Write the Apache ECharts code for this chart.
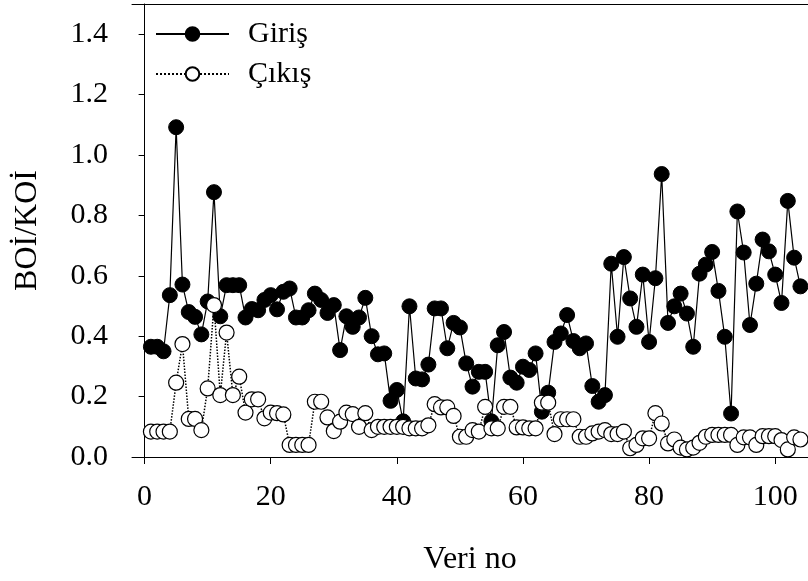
<!DOCTYPE html>
<html>
<head>
<meta charset="utf-8">
<script src="https://cdn.jsdelivr.net/npm/echarts@6/dist/echarts.min.js"></script>
<style>
html,body{margin:0;padding:0;background:#fff;}
#chart{width:808px;height:581px;}
</style>
</head>
<body>
<div id="chart"></div>
<script>
const girisValues = [0.365,0.365,0.35,0.536,1.092,0.571,0.48,0.464,0.406,0.515,
0.877,0.466,0.569,0.569,0.569,0.462,0.49,0.486,0.52,0.536,
0.489,0.547,0.558,0.462,0.462,0.486,0.541,0.52,0.477,0.503,
0.354,0.466,0.431,0.462,0.527,0.40,0.34,0.343,0.186,0.222,
0.118,0.499,0.26,0.257,0.306,0.492,0.492,0.36,0.444,0.429,
0.31,0.233,0.282,0.282,0.118,0.37,0.414,0.263,0.246,0.299,
0.288,0.343,0.15,0.213,0.381,0.409,0.47,0.384,0.36,0.376,
0.235,0.183,0.205,0.64,0.398,0.662,0.525,0.431,0.604,0.381,
0.592,0.937,0.444,0.499,0.541,0.475,0.365,0.607,0.637,0.679,
0.55,0.398,0.144,0.813,0.677,0.437,0.574,0.72,0.681,0.604,
0.51,0.848,0.66,0.565];
const cikisValues = [0.084,0.084,0.084,0.084,0.246,0.374,0.126,0.126,0.089,0.227,
0.503,0.205,0.412,0.205,0.266,0.147,0.191,0.191,0.128,0.147,
0.145,0.141,0.04,0.04,0.04,0.04,0.183,0.183,0.131,0.086,
0.117,0.147,0.142,0.10,0.145,0.089,0.10,0.10,0.10,0.10,
0.10,0.095,0.095,0.095,0.105,0.175,0.164,0.164,0.136,0.067,
0.067,0.089,0.084,0.166,0.095,0.095,0.166,0.166,0.098,0.098,
0.095,0.095,0.18,0.18,0.076,0.125,0.125,0.125,0.067,0.067,
0.078,0.084,0.089,0.076,0.076,0.084,0.029,0.04,0.062,0.062,
0.145,0.111,0.045,0.058,0.031,0.025,0.031,0.047,0.067,0.073,
0.073,0.073,0.073,0.04,0.065,0.065,0.04,0.069,0.069,0.069,
0.056,0.025,0.065,0.058];
const xTicks = [0,20,40,60,80,100];
const yTicks = [0,0.2,0.4,0.6,0.8,1.0,1.2,1.4];
const seriesNames = ['Giriş','Çıkış'];

const toPairs = arr => arr.map((v,i)=>[i+1,v]);
const FONT = '"Liberation Serif","Times New Roman",serif';

const chart = echarts.init(document.getElementById('chart'), null, {renderer:'canvas'});
chart.setOption({
  animation:false,
  backgroundColor:'#fff',
  grid:{left:132, right:0, top:4, bottom:124, containLabel:false},
  legend:{
    orient:'vertical', left:150, top:14, itemGap:10,
    itemWidth:73, itemHeight:17,
    textStyle:{fontFamily:FONT, fontSize:30, color:'#000', padding:[0,0,0,14]},
    data:seriesNames
  },
  xAxis:[{
    type:'value', min:-2, max:105.2,
    name:'Veri no', nameLocation:'middle', nameGap:87,
    nameTextStyle:{fontFamily:FONT, fontSize:32, color:'#000'},
    axisLine:{show:true, lineStyle:{color:'#000', width:1}},
    axisTick:{show:true, length:7, customValues:xTicks, lineStyle:{color:'#000'}},
    axisLabel:{customValues:xTicks, margin:25, fontFamily:FONT, fontSize:30, color:'#000'},
    splitLine:{show:false}
  },{
    type:'value', position:'top', min:-2, max:105.2,
    axisLine:{show:true, lineStyle:{color:'#000', width:1}},
    axisTick:{show:false}, axisLabel:{show:false}, splitLine:{show:false}
  }],
  yAxis:{
    type:'value', min:0, max:1.5,
    name:'BOİ/KOİ', nameLocation:'middle', nameGap:88, nameRotate:90,
    nameTextStyle:{fontFamily:FONT, fontSize:32, color:'#000'},
    axisLine:{show:true, lineStyle:{color:'#000', width:1}},
    axisTick:{show:true, length:6, customValues:yTicks, lineStyle:{color:'#000'}},
    axisLabel:{customValues:yTicks, margin:24, fontFamily:FONT, fontSize:30, color:'#000',
      formatter:v=>Number(v).toFixed(1)},
    splitLine:{show:false}
  },
  series:[{
    name:seriesNames[0], type:'line', data:toPairs(girisValues),
    symbol:'circle', symbolSize:15, showAllSymbol:true,
    itemStyle:{color:'#000', borderColor:'#000', borderWidth:1},
    lineStyle:{color:'#000', width:1.2}
  },{
    name:seriesNames[1], type:'line', data:toPairs(cikisValues),
    symbol:'circle', symbolSize:15, showAllSymbol:true,
    itemStyle:{color:'#fff', borderColor:'#000', borderWidth:1.2},
    lineStyle:{color:'#000', width:1.5, type:'dotted'}
  }]
});
</script>
</body>
</html>
